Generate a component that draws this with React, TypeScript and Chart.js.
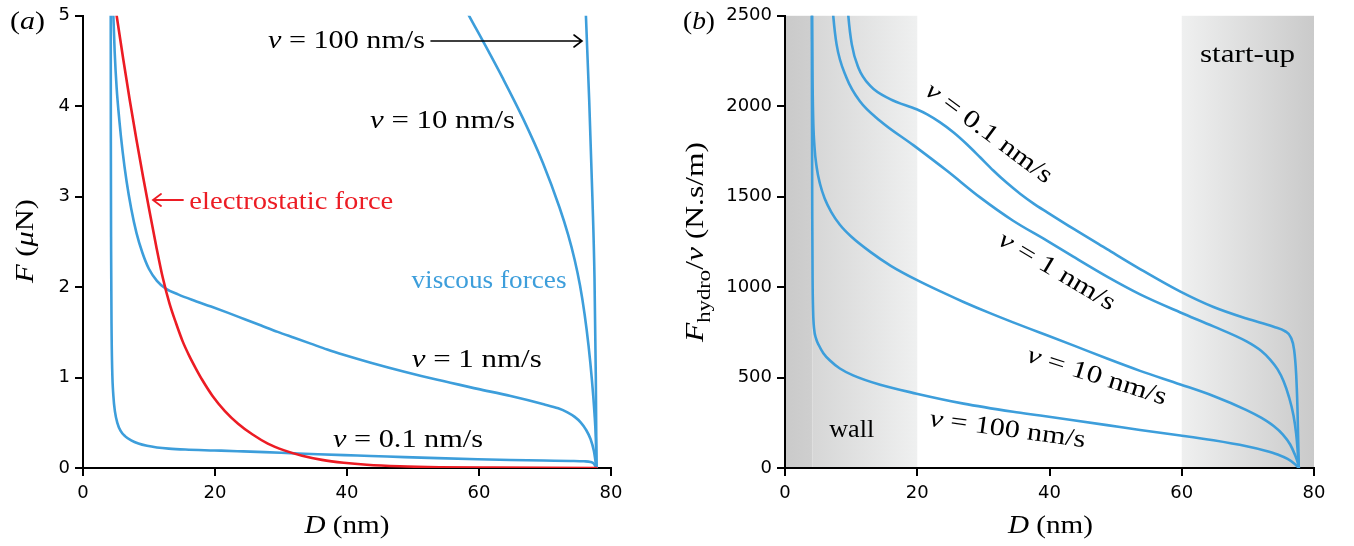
import React, { useEffect, useRef } from 'react';
import { Chart, registerables } from 'chart.js';

Chart.register(...registerables);

// ---------- Panel (a): force F (µN) vs gap D (nm) ----------
const aD_elec = [5.0, 5.1, 6.1, 7.1, 8.1, 9.1, 10.1, 11.1, 12.1, 13.1, 14.1, 15.1, 16.1, 17.1, 18.1, 19.6, 21.5, 23.5, 25.7, 28.0, 30.5, 33.2, 36.2, 39.5, 43, 48, 54, 62, 70, 77.8];
const aF_elec = [5.05, 5.0, 4.52, 4.06, 3.63, 3.22, 2.83, 2.45, 2.1, 1.82, 1.6, 1.4, 1.24, 1.1, 0.97, 0.8, 0.63, 0.49, 0.37, 0.27, 0.195, 0.135, 0.09, 0.058, 0.036, 0.019, 0.009, 0.004, 0.0015, 0];

const aD_v01 = [4.2, 4.22, 4.26, 4.32, 4.42, 4.6, 4.85, 5.2, 5.7, 6.4, 7.3, 8.4, 9.7, 11.2, 13, 15.5, 19.9, 23.4, 27.5, 31.5, 35.6, 39.6, 43.6, 48.7, 53.7, 59.8, 64.8, 69.8, 73.9, 75.9, 76.9, 77.4, 77.8];
const aF_v01 = [5.3, 3.6, 2.4, 1.6, 1.1, 0.8, 0.62, 0.5, 0.41, 0.35, 0.305, 0.27, 0.245, 0.227, 0.214, 0.204, 0.194, 0.186, 0.176, 0.164, 0.152, 0.142, 0.133, 0.12, 0.109, 0.097, 0.089, 0.0825, 0.078, 0.074, 0.067, 0.048, 0];

const aD_v1 = [4.5, 4.6, 4.8, 5.1, 5.5, 6.0, 6.6, 7.3, 8.1, 9.0, 10.0, 11.2, 12.6, 14.4, 16.5, 19.4, 22, 24.5, 27, 29.5, 32, 34.5, 37, 39.6, 43.6, 48.7, 53.7, 59.8, 64.8, 69.8, 72.0, 73.4, 74.5, 75.4, 76.2, 76.9, 77.4, 77.8];
const aF_v1 = [5.3, 5.0, 4.6, 4.2, 3.85, 3.5, 3.17, 2.87, 2.6, 2.38, 2.2, 2.07, 1.98, 1.92, 1.86, 1.785, 1.715, 1.645, 1.575, 1.505, 1.44, 1.375, 1.31, 1.25, 1.165, 1.065, 0.975, 0.875, 0.795, 0.705, 0.66, 0.615, 0.565, 0.505, 0.425, 0.32, 0.19, 0];

const aD_v10 = [57.5, 58.5, 60.6, 63.6, 66.7, 69.7, 72.2, 73.5, 74.5, 75.3, 76.0, 76.6, 77.1, 77.5, 77.7, 77.8];
const aF_v10 = [5.14, 5.0, 4.72, 4.31, 3.86, 3.37, 2.88, 2.58, 2.3, 2.02, 1.7, 1.35, 0.98, 0.6, 0.32, 0];

const aD_v100 = [76.0, 76.2, 76.7, 77.2, 77.5, 77.7, 77.8];
const aF_v100 = [5.3, 5.0, 4.06, 2.95, 2.1, 1.0, 0];

// ---------- Panel (b): F_hydro / v (N.s/m) vs D (nm) ----------
const bD_v01 = [9.3, 9.58, 10.1, 11.1, 12.9, 15.9, 19.9, 21.5, 23.4, 25.5, 27.5, 29.5, 31.5, 33.5, 35.6, 37.6, 39.6, 43.6, 48.7, 53.7, 59.8, 64.8, 69.8, 73.9, 75.6, 76.5, 77.0, 77.3, 77.5, 77.7];
const bQ_v01 = [2650, 2498, 2342, 2213, 2112, 2039, 1983, 1955, 1912, 1855, 1790, 1718, 1645, 1578, 1515, 1462, 1415, 1323, 1210, 1100, 975, 890, 826, 781, 757, 722, 652, 520, 330, 0];

const bD_v1 = [7.0, 7.3, 7.8, 9.3, 11.3, 14.4, 19.4, 24.5, 29.5, 34.5, 39.6, 43.6, 48.7, 53.7, 59.8, 64.8, 69.8, 72.0, 73.4, 74.5, 75.4, 76.2, 76.9, 77.3, 77.5, 77.7];
const bQ_v1 = [2650, 2498, 2342, 2158, 2029, 1919, 1785, 1643, 1496, 1367, 1257, 1168, 1058, 960, 860, 783, 700, 648, 598, 545, 480, 395, 290, 190, 110, 0];

const bD_v10 = [4.08, 4.1, 4.15, 4.25, 4.45, 4.8, 5.3, 6.0, 7.0, 8.3, 10.0, 12.9, 16.0, 19.9, 24, 27, 31, 34.5, 38.6, 43.6, 48.7, 53.7, 59.8, 64.8, 69.8, 72.0, 73.9, 75.3, 76.4, 77.1, 77.5, 77.7];
const bQ_v10 = [2650, 2500, 2200, 1950, 1780, 1660, 1570, 1490, 1415, 1345, 1280, 1195, 1118, 1040, 968, 918, 856, 805, 748, 678, 605, 537, 462, 398, 320, 278, 232, 185, 130, 75, 35, 0];

const bD_v100 = [4.05, 4.08, 4.12, 4.17, 4.25, 4.4, 4.7, 5.1, 5.8, 6.8, 8.3, 10.3, 14.4, 19.9, 27, 34.5, 38.6, 43.6, 48.7, 53.7, 59.8, 64.8, 69.8, 72.5, 74.5, 76.0, 77.0, 77.7];
const bQ_v100 = [2650, 2000, 1400, 1050, 870, 770, 715, 680, 635, 594, 550, 512, 460, 411, 356, 311, 290, 264, 237, 210, 180, 153, 120, 97, 75, 50, 25, 0];

// shaded regions (nm)
const wallRange = [0, 4.15, 20];
const startupRange = [60, 80];

const xTickStep = 20;
const aYMax = 5;
const aYStep = 1;
const bYMax = 2500;
const bYStep = 500;

const BLUE = '#3d9edb';
const RED = '#ec1c24';
const SERIF = '"Liberation Serif", "Times New Roman", serif';
const SANS = '"DejaVu Sans", sans-serif';

type Part = { t: string; it?: boolean; sub?: boolean };

function pts(xs: number[], ys: number[]) {
  return xs.map((x, i) => ({ x, y: ys[i] }));
}

function partFont(p: Part, size: number) {
  return `${p.it ? 'italic ' : ''}${p.sub ? Math.round(size * 0.72) : size}px ${SERIF}`;
}

function drawRich(
  ctx: CanvasRenderingContext2D,
  parts: Part[],
  x: number,
  y: number,
  size: number,
  color: string,
  width?: number,
  angle = 0,
  baseline: CanvasTextBaseline = 'alphabetic'
) {
  ctx.save();
  ctx.translate(x, y);
  ctx.rotate(angle);
  ctx.textBaseline = baseline;
  ctx.textAlign = 'left';
  ctx.fillStyle = color;
  let w = 0;
  const ws = parts.map((p) => {
    ctx.font = partFont(p, size);
    const m = ctx.measureText(p.t).width;
    w += m;
    return m;
  });
  const sx = width ? width / w : 1;
  ctx.scale(sx, 1);
  let cx = -w / 2;
  parts.forEach((p, i) => {
    ctx.font = partFont(p, size);
    ctx.fillText(p.t, cx, p.sub ? size * 0.28 : 0);
    cx += ws[i];
  });
  ctx.restore();
}

function vLabel(val: string): Part[] {
  return [{ t: 'v', it: true }, { t: ` = ${val} nm/s` }];
}

function makeScales(yMax: number, yStep: number, yWidth: number) {
  const tickFont = { family: SANS, size: 18 };
  const grid = { drawOnChartArea: false, drawTicks: true, tickLength: 8, lineWidth: 2, color: '#000', tickColor: '#000' };
  const border = { display: true, color: '#000', width: 2 };
  const plain = (v: any) => String(v);
  return {
    x: {
      type: 'linear',
      min: 0,
      max: 80,
      ticks: { stepSize: xTickStep, color: '#000', font: tickFont, padding: 7, maxRotation: 0, callback: plain },
      grid,
      border,
      afterFit: (s: any) => {
        s.height = 78;
      },
    },
    y: {
      type: 'linear',
      min: 0,
      max: yMax,
      ticks: { stepSize: yStep, color: '#000', font: tickFont, padding: 5, callback: plain },
      grid,
      border,
      afterFit: (s: any) => {
        s.width = yWidth;
      },
    },
  };
}

function lineDs(label: string, data: { x: number; y: number }[], color: string) {
  return {
    label,
    data,
    borderColor: color,
    backgroundColor: color,
    borderWidth: 2.6,
    pointRadius: 0,
    cubicInterpolationMode: 'monotone',
    fill: false,
    borderCapStyle: 'round',
    borderJoinStyle: 'round',
  };
}

const leftText = {
  id: 'leftText',
  afterDraw(chart: any) {
    const ctx: CanvasRenderingContext2D = chart.ctx;
    const S = 25;
    drawRich(ctx, [{ t: '(' }, { t: 'a', it: true }, { t: ')' }], 27.5, 29, S, '#000', 35);
    drawRich(ctx, [{ t: 'F', it: true }, { t: ' (' }, { t: 'μ', it: true }, { t: 'N)' }], 33, 241, S, '#000', 84, -Math.PI / 2);
    drawRich(ctx, [{ t: 'D', it: true }, { t: ' (nm)' }], 347, 533, S, '#000', 85);
    drawRich(ctx, vLabel('100'), 346.5, 48, S, '#000', 157);
    drawRich(ctx, vLabel('10'), 442.5, 128, S, '#000', 145);
    drawRich(ctx, [{ t: 'electrostatic force' }], 291.3, 208.5, S, RED, 204);
    drawRich(ctx, [{ t: 'viscous forces' }], 489, 288, S, BLUE, 155);
    drawRich(ctx, vLabel('1'), 476.7, 366.7, S, '#000', 130);
    drawRich(ctx, vLabel('0.1'), 408, 446.7, S, '#000', 150);
    // arrows
    ctx.save();
    ctx.lineCap = 'round';
    ctx.strokeStyle = '#000';
    ctx.lineWidth = 1.6;
    ctx.beginPath();
    ctx.moveTo(431, 41);
    ctx.lineTo(582, 41);
    ctx.moveTo(574, 35);
    ctx.lineTo(582, 41);
    ctx.lineTo(574, 47);
    ctx.stroke();
    ctx.strokeStyle = RED;
    ctx.lineWidth = 1.8;
    ctx.beginPath();
    ctx.moveTo(183, 200);
    ctx.lineTo(153, 200);
    ctx.moveTo(161, 194);
    ctx.lineTo(153, 200);
    ctx.lineTo(161, 206);
    ctx.stroke();
    ctx.restore();
  },
};

const rightShade = {
  id: 'rightShade',
  beforeDraw(chart: any) {
    const ctx: CanvasRenderingContext2D = chart.ctx;
    const { top, bottom } = chart.chartArea;
    const x = chart.scales.x;
    const x0 = x.getPixelForValue(wallRange[0]);
    const x1 = x.getPixelForValue(wallRange[1]);
    const x2 = x.getPixelForValue(wallRange[2]);
    ctx.save();
    let g = ctx.createLinearGradient(x0, 0, x1, 0);
    g.addColorStop(0, '#cacaca');
    g.addColorStop(1, '#cfcfcf');
    ctx.fillStyle = g;
    ctx.fillRect(x0, top, x1 - x0, bottom - top);
    g = ctx.createLinearGradient(x1, 0, x2, 0);
    g.addColorStop(0, '#d6d6d6');
    g.addColorStop(1, '#eff0f0');
    ctx.fillStyle = g;
    ctx.fillRect(x1, top, x2 - x1, bottom - top);
    const s0 = x.getPixelForValue(startupRange[0]);
    const s1 = x.getPixelForValue(startupRange[1]);
    g = ctx.createLinearGradient(s0, 0, s1, 0);
    g.addColorStop(0, '#eff0f0');
    g.addColorStop(1, '#cacaca');
    ctx.fillStyle = g;
    ctx.fillRect(s0, top, s1 - s0, bottom - top);
    ctx.restore();
  },
};

const OFF = 670;
const rightText = {
  id: 'rightText',
  afterDraw(chart: any) {
    const ctx: CanvasRenderingContext2D = chart.ctx;
    const S = 25;
    drawRich(ctx, [{ t: '(' }, { t: 'b', it: true }, { t: ')' }], 699 - OFF, 29, S, '#000', 32);
    drawRich(
      ctx,
      [{ t: 'F', it: true }, { t: 'hydro', sub: true }, { t: '/' }, { t: 'v', it: true }, { t: ' (N.s/m)' }],
      703 - OFF,
      242,
      S,
      '#000',
      200,
      -Math.PI / 2
    );
    drawRich(ctx, [{ t: 'D', it: true }, { t: ' (nm)' }], 1050.5 - OFF, 533, S, '#000', 85);
    drawRich(ctx, [{ t: 'start-up' }], 1247.5 - OFF, 61.7, S, '#000', 95);
    drawRich(ctx, [{ t: 'wall' }], 851.7 - OFF, 436.7, S, '#000', 45);
    const d = Math.PI / 180;
    drawRich(ctx, vLabel('0.1'), 988.5 - OFF, 133.5, S, '#000', 152, 36.6 * d, 'middle');
    drawRich(ctx, vLabel('1'), 1056.7 - OFF, 271.7, S, '#000', 132, 30.7 * d, 'middle');
    drawRich(ctx, vLabel('10'), 1096.7 - OFF, 376.7, S, '#000', 145, 17.5 * d, 'middle');
    drawRich(ctx, vLabel('100'), 1007.5 - OFF, 430, S, '#000', 157, 7.9 * d, 'middle');
  },
};

export default function App() {
  const leftRef = useRef<HTMLCanvasElement>(null);
  const rightRef = useRef<HTMLCanvasElement>(null);

  useEffect(() => {
    const common = {
      animation: false,
      responsive: false,
      devicePixelRatio: 1,
      plugins: { legend: { display: false }, tooltip: { enabled: false } },
      events: [],
    };
    const c1 = new Chart(leftRef.current as HTMLCanvasElement, {
      type: 'line',
      data: {
        datasets: [
          lineDs('electrostatic force', pts(aD_elec, aF_elec), RED),
          lineDs('v = 0.1 nm/s', pts(aD_v01, aF_v01), BLUE),
          lineDs('v = 1 nm/s', pts(aD_v1, aF_v1), BLUE),
          lineDs('v = 10 nm/s', pts(aD_v10, aF_v10), BLUE),
          lineDs('v = 100 nm/s', pts(aD_v100, aF_v100), BLUE),
        ],
      },
      options: {
        ...common,
        layout: { padding: { top: 15, right: 59, left: 0, bottom: 0 } },
        scales: makeScales(aYMax, aYStep, 83),
      } as any,
      plugins: [leftText],
    } as any);
    const c2 = new Chart(rightRef.current as HTMLCanvasElement, {
      type: 'line',
      data: {
        datasets: [
          lineDs('v = 0.1 nm/s', pts(bD_v01, bQ_v01), BLUE),
          lineDs('v = 1 nm/s', pts(bD_v1, bQ_v1), BLUE),
          lineDs('v = 10 nm/s', pts(bD_v10, bQ_v10), BLUE),
          lineDs('v = 100 nm/s', pts(bD_v100, bQ_v100), BLUE),
        ],
      },
      options: {
        ...common,
        layout: { padding: { top: 15, right: 40, left: 0, bottom: 0 } },
        scales: makeScales(bYMax, bYStep, 115),
      } as any,
      plugins: [rightShade, rightText],
    } as any);
    return () => {
      c1.destroy();
      c2.destroy();
    };
  }, []);

  return (
    <div style={{ position: 'fixed', left: 0, top: 0, width: 1354, height: 546, background: '#fff' }}>
      <canvas
        ref={leftRef}
        width={670}
        height={546}
        style={{ position: 'absolute', left: 0, top: 0, width: 670, height: 546 }}
      />
      <canvas
        ref={rightRef}
        width={684}
        height={546}
        style={{ position: 'absolute', left: 670, top: 0, width: 684, height: 546 }}
      />
    </div>
  );
}
